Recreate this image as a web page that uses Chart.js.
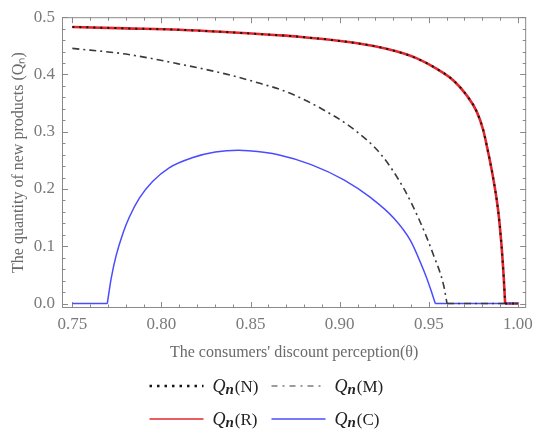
<!DOCTYPE html>
<html>
<head>
<meta charset="utf-8">
<script src="https://cdn.jsdelivr.net/npm/chart.js@4/dist/chart.umd.min.js"></script>
<style>
body { margin: 0; background: #fff; }
</style>
</head>
<body>
<canvas id="chart" width="539" height="430"></canvas>
<script>
// values (theta, Qn)
// a null splits the curve where it has a sharp corner, so the spline keeps the kink
const thetaR = [0.75, 0.78, 0.81, 0.8655, 0.877, 0.9026, 0.9211, 0.9322, 0.9433, 0.9545, 0.9638, 0.9712, 0.9768, 0.9805, 0.9824, 0.9861, 0.9889, 0.9907, 0.992, 0.9928, 0.9928, 0.9928, 1.0];
const qR = [0.483, 0.4805, 0.478, 0.4685, 0.466, 0.4575, 0.4485, 0.440, 0.428, 0.4097, 0.3896, 0.3637, 0.3355, 0.303, 0.277, 0.219, 0.162, 0.104, 0.046, 0, null, 0, 0];

// N lies on top of R in the figure
const thetaN = thetaR;
const qN = qR;

const thetaM = [0.75, 0.78, 0.808, 0.8358, 0.858, 0.8655, 0.8748, 0.8896, 0.9082, 0.923, 0.936, 0.9452, 0.9527, 0.9583, 0.9602, 0.9602, 0.9602, 1.0];
const qM = [0.4455, 0.4356, 0.4195, 0.401, 0.382, 0.375, 0.3635, 0.3405, 0.3035, 0.261, 0.2005, 0.142, 0.084, 0.032, 0, null, 0, 0];

const thetaC = [0.75, 0.7696, 0.7696, 0.7696, 0.7718, 0.7746, 0.7783, 0.782, 0.7876, 0.795, 0.8043, 0.8172, 0.8302, 0.8432, 0.8488, 0.8655, 0.884, 0.9026, 0.9174, 0.9304, 0.9397, 0.9471, 0.9512, 0.9536, 0.9536, 0.9536, 1.0];
const qC = [0, 0, null, 0, 0.044, 0.084, 0.122, 0.151, 0.184, 0.213, 0.237, 0.2545, 0.2645, 0.2675, 0.2668, 0.2599, 0.2426, 0.2155, 0.1848, 0.149, 0.11, 0.058, 0.0234, 0, null, 0, 0];

const xTicks = [0.75, 0.80, 0.85, 0.90, 0.95, 1.00];
const yTicks = [0.0, 0.1, 0.2, 0.3, 0.4, 0.5];

const serif = 'Liberation Serif';

function toPoints(xs, ys) {
    return xs.map((x, i) => ({ x: x, y: ys[i] }));
}

// Mathematica-like frame with inward major/minor ticks
const framePlugin = {
    id: 'frame',
    beforeDatasetsDraw(chart) {
        const { ctx, chartArea: a, scales: { x, y } } = chart;
        ctx.save();
        ctx.strokeStyle = '#8a8a8a';
        ctx.lineWidth = 1;
        ctx.strokeRect(a.left + 0.5, a.top + 0.5, a.right - a.left - 1, a.bottom - a.top - 1);
        ctx.beginPath();
        for (let k = 0; k <= 25; k++) {
            const px = Math.round(x.getPixelForValue(0.75 + k * 0.01)) + 0.5;
            const len = k % 5 === 0 ? 6 : 3.5;
            ctx.moveTo(px, a.bottom); ctx.lineTo(px, a.bottom - len);
            ctx.moveTo(px, a.top); ctx.lineTo(px, a.top + len);
        }
        for (let k = 0; k <= 25; k++) {
            const py = Math.round(y.getPixelForValue(k * 0.02)) + 0.5;
            const len = k % 5 === 0 ? 6 : 3.5;
            ctx.moveTo(a.left, py); ctx.lineTo(a.left + len, py);
            ctx.moveTo(a.right, py); ctx.lineTo(a.right - len, py);
        }
        ctx.stroke();
        ctx.restore();
    }
};

// two-by-two legend with italic Q_n labels
const legendPlugin = {
    id: 'qLegend',
    afterDraw(chart) {
        const { ctx, width } = chart;
        const cx = width / 2 - 5;
        const top = chart.scales.x.bottom + 21;
        chart.data.datasets.forEach((ds, i) => {
            const x0 = cx + (i % 2 ? 7 : -115);
            const yy = top + Math.floor(i / 2) * 33;
            ctx.save();
            ctx.strokeStyle = ds.borderColor;
            ctx.lineWidth = ds.legendWidth || ds.borderWidth;
            ctx.setLineDash(ds.legendDash || ds.borderDash || []);
            ctx.beginPath();
            ctx.moveTo(x0, yy);
            ctx.lineTo(x0 + 54, yy);
            ctx.stroke();
            ctx.setLineDash([]);
            ctx.fillStyle = '#222';
            ctx.textBaseline = 'alphabetic';
            let tx = x0 + 63;
            const base = yy + 6;
            ctx.font = 'italic 18px ' + serif;
            ctx.fillText('Q', tx, base);
            tx += ctx.measureText('Q').width;
            ctx.font = 'italic bold 15px ' + serif;
            ctx.fillText('n', tx, base + 2);
            tx += ctx.measureText('n').width + 1;
            ctx.font = '17px ' + serif;
            ctx.fillText('(' + ds.label + ')', tx, base);
            ctx.restore();
        });
    }
};

const ctx = document.getElementById('chart');

new Chart(ctx, {
    type: 'line',
    data: {
        datasets: [
            {
                label: 'N',
                data: toPoints(thetaN, qN),
                borderColor: '#151515',
                borderWidth: 2,
                borderDash: [2, 5],
                legendWidth: 2.5,
                legendDash: [2.5, 5],
                order: 0
            },
            {
                label: 'M',
                data: toPoints(thetaM, qM),
                borderColor: '#3a3a3a',
                borderWidth: 1.6,
                borderDash: [7, 4, 2, 4],
                legendWidth: 1.2,
                legendDash: [6, 5, 2, 5],
                order: 1
            },
            {
                label: 'R',
                data: toPoints(thetaR, qR),
                borderColor: '#e3262b',
                borderWidth: 2.6,
                legendWidth: 1.5,
                order: 3
            },
            {
                label: 'C',
                data: toPoints(thetaC, qC),
                borderColor: '#4b4bff',
                borderWidth: 1.5,
                order: 2
            }
        ]
    },
    options: {
        responsive: false,
        animation: false,
        devicePixelRatio: 1,
        spanGaps: false,
        layout: {
            padding: { left: 0, right: 9, top: 15, bottom: 65 }
        },
        elements: {
            point: { radius: 0 },
            line: { cubicInterpolationMode: 'monotone', fill: false }
        },
        plugins: {
            legend: { display: false },
            tooltip: { enabled: false }
        },
        scales: {
            x: {
                type: 'linear',
                min: 0.7442,
                max: 1.0046,
                grid: { display: false, drawTicks: false },
                border: { display: false },
                afterBuildTicks: s => { s.ticks = xTicks.map(v => ({ value: v })); },
                afterFit: s => { s.height = 57; },
                ticks: {
                    callback: v => v.toFixed(2),
                    color: '#7a7a7a',
                    font: { family: serif, size: 17 },
                    padding: 6,
                    maxRotation: 0,
                    autoSkip: false
                },
                title: {
                    display: true,
                    text: "The consumers' discount perception(θ)",
                    color: '#6a6a6a',
                    font: { family: serif, size: 16 },
                    padding: { top: 4, bottom: 3 }
                }
            },
            y: {
                type: 'linear',
                min: -0.0078,
                max: 0.5,
                grid: { display: false, drawTicks: false },
                border: { display: false },
                afterBuildTicks: s => { s.ticks = yTicks.map(v => ({ value: v })); },
                afterFit: s => { s.width = 62; },
                ticks: {
                    callback: v => v.toFixed(1),
                    color: '#7a7a7a',
                    font: { family: serif, size: 17 },
                    padding: 7,
                    autoSkip: false
                },
                title: {
                    display: true,
                    text: 'The quantity of new products (Qₙ)',
                    color: '#6a6a6a',
                    font: { family: serif, size: 16 },
                    padding: { top: 9, bottom: 0 }
                }
            }
        }
    },
    plugins: [framePlugin, legendPlugin]
});
</script>
</body>
</html>
